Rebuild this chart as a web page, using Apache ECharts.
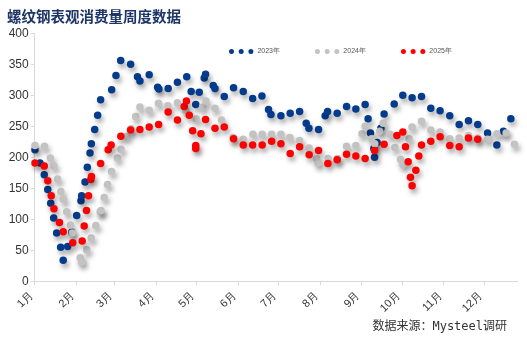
<!DOCTYPE html>
<html><head><meta charset="utf-8">
<script src="https://cdn.jsdelivr.net/npm/echarts@6/dist/echarts.min.js"></script>
<style>html,body{margin:0;padding:0;background:#fff}#c{width:527px;height:337px}</style>
</head><body><div id="c"></div>
<script>
// x = day of year position (Jan 1 = 0)
const monthStarts = [0,31,59,90,120,151,181,212,243,273,304,334];
const monthLabels = ['1月','2月','3月','4月','5月','6月','7月','8月','9月','10月','11月','12月'];
const yTicks = [0,50,100,150,200,250,300,350,400];

const days2023 = [0.2,3.9,7.1,9.7,11.9,14.1,16.3,19.3,21.2,24.5,27.5,31.2,34.4,34.9,37.4,39.1,41.1,42.1,44.6,46.8,49.0,57.2,60.4,63.9,71.3,76.4,78.2,85.1,91.4,92.3,99.2,106.1,113.0,116.3,119.7,122.3,126.0,127.0,132.7,134.0,140.9,147.8,155.0,162.0,168.9,173.8,175.6,183.0,189.9,196.9,201.8,203.8,211.0,215.9,217.7,224.8,231.8,238.7,245.6,247.8,249.6,252.1,252.6,254.5,257.3,259.7,267.2,273.6,280.5,287.5,294.4,301.3,308.5,315.5,322.4,329.3,336.6,343.5,348.4,353.9];
const vals2023 = [212,191,172,148,126,102,78,55,34,56,79,106,130,138,160,184,207,222,245,268,293,309,332,356,350,330,323,333,313,310,311,321,330,306,285,305,328,334,316,311,298,312,306,295,299,277,269,267,271,274,255,247,245,267,274,271,282,278,285,262,239,214,200,224,247,270,286,300,296,298,279,275,267,253,259,253,239,220,242,262];

const days2024 = [0.2,7.3,11.6,14.3,17.0,19.4,21.4,23.8,26.6,27.9,33.8,35.0,38.7,42.0,45.4,48.7,49.3,51.6,54.1,57.1,61.4,64.1,68.4,71.5,75.0,78.2,85.1,92.0,99.0,106.1,112.2,120.0,124.8,127.3,134.0,138.9,147.5,155.0,162.2,169.1,176.1,183.0,189.7,196.9,204.0,209.5,210.7,218.1,225.1,231.8,238.7,243.2,245.6,250.4,252.8,256.5,259.0,264.0,267.7,271.9,273.8,278.3,280.5,287.5,294.4,301.3,308.5,315.5,322.4,329.3,336.6,343.5,350.4,356.6];
const vals2024 = [219,218,199,186,165,145,132,112,91,78,38,31,51,70,90,112,114,135,156,177,199,213,234,246,266,281,276,287,283,288,276,262,281,291,279,260,232,229,237,237,237,237,232,227,215,198,191,198,198,218,219,238,250,230,222,242,255,237,216,197,188,230,249,258,244,241,230,231,235,231,229,238,239,221];

const days2025 = [0.2,7.1,9.7,12.3,14.3,18.4,21.2,28.3,35.3,36.8,38.5,40.0,41.7,42.2,49.0,54.6,56.8,64.0,71.3,78.2,85.1,92.1,99.2,106.1,111.1,112.8,114.9,117.4,119.7,119.7,123.6,127.0,134.0,140.9,147.8,155.0,162.0,169.1,176.1,183.0,189.9,196.9,204.0,211.0,217.9,224.8,231.8,238.7,245.6,252.6,259.7,269.2,273.6,275.6,277.6,279.3,280.5,283.3,285.5,287.5,294.4,301.3,308.5,315.5,322.4,329.3];
const vals2025 = [191,186,162,138,117,95,80,62,65,89,114,138,164,169,190,212,220,234,244,245,249,253,273,260,282,291,268,243,219,214,238,261,247,249,230,220,220,220,226,222,206,217,204,211,190,196,205,202,198,211,221,235,241,217,193,168,154,179,202,220,226,233,219,217,231,229];

const seriesNames = ['2023年','2024年','2025年'];
const colors = ['#053b8c','#c3c3c3','#ff0000'];

function zip(a,b){return a.map((d,i)=>[d,b[i]]);}
const dataSets = [zip(days2023,vals2023), zip(days2024,vals2024), zip(days2025,vals2025)];

const dotIcon = 'path://M0,2.5A2.5,2.5,0,1,1,5,2.5A2.5,2.5,0,1,1,0,2.5Z M9.7,2.5A2.5,2.5,0,1,1,14.7,2.5A2.5,2.5,0,1,1,9.7,2.5Z M19.4,2.5A2.5,2.5,0,1,1,24.4,2.5A2.5,2.5,0,1,1,19.4,2.5Z';

const chart = echarts.init(document.getElementById('c'), null, {renderer:'canvas'});
chart.setOption({
  animation:false,
  backgroundColor:'#fff',
  color: colors,
  title:{
    text:'螺纹钢表观消费量周度数据',
    left:2, top:4,
    textStyle:{fontFamily:'Noto Sans CJK SC', fontSize:14.5, fontWeight:'bold', color:'#1d3567'}
  },
  legend:{
    left:224, top:43, itemWidth:24.4, itemHeight:5, itemGap:35,
    icon: dotIcon,
    textStyle:{fontSize:7, color:'#555', padding:[0,0,0,-1]},
    data: seriesNames
  },
  graphic:[{
    type:'text', right:20, top:321,
    style:{text:'数据来源：Mysteel调研', font:'12px "DejaVu Sans Mono", "Noto Sans CJK SC", monospace', fill:'#333'}
  }],
  grid:{left:34.7, right:9.3, top:33.3, bottom:55.7, containLabel:false},
  xAxis:{
    type:'value', min:0, max:359,
    splitLine:{show:false},
    axisLine:{show:true, lineStyle:{color:'#d9d9d9'}},
    axisTick:{show:true, customValues: monthStarts, length:4, lineStyle:{color:'#d9d9d9'}},
    axisLabel:{customValues: monthStarts, rotate:45, fontSize:11, color:'#333', margin:9, padding:[0,5,0,0],
      formatter:(v)=>{const i=monthStarts.indexOf(Math.round(v)); return i>=0?monthLabels[i]:'';}}
  },
  yAxis:{
    type:'value', min:yTicks[0], max:yTicks[yTicks.length-1], interval:50,
    splitLine:{show:false},
    axisLine:{show:true, lineStyle:{color:'#d9d9d9'}},
    axisTick:{show:true, length:4, lineStyle:{color:'#d9d9d9'}},
    axisLabel:{fontSize:12, color:'#333', margin:6}
  },
  series: seriesNames.map((n,i)=>({
    name:n, type:'scatter', data:dataSets[i], symbolSize:7.5,
    itemStyle:{color:colors[i], opacity:1, shadowBlur:5, shadowColor:'rgba(0,0,0,0.35)', shadowOffsetX:2, shadowOffsetY:4}
  }))
});
</script></body></html>
